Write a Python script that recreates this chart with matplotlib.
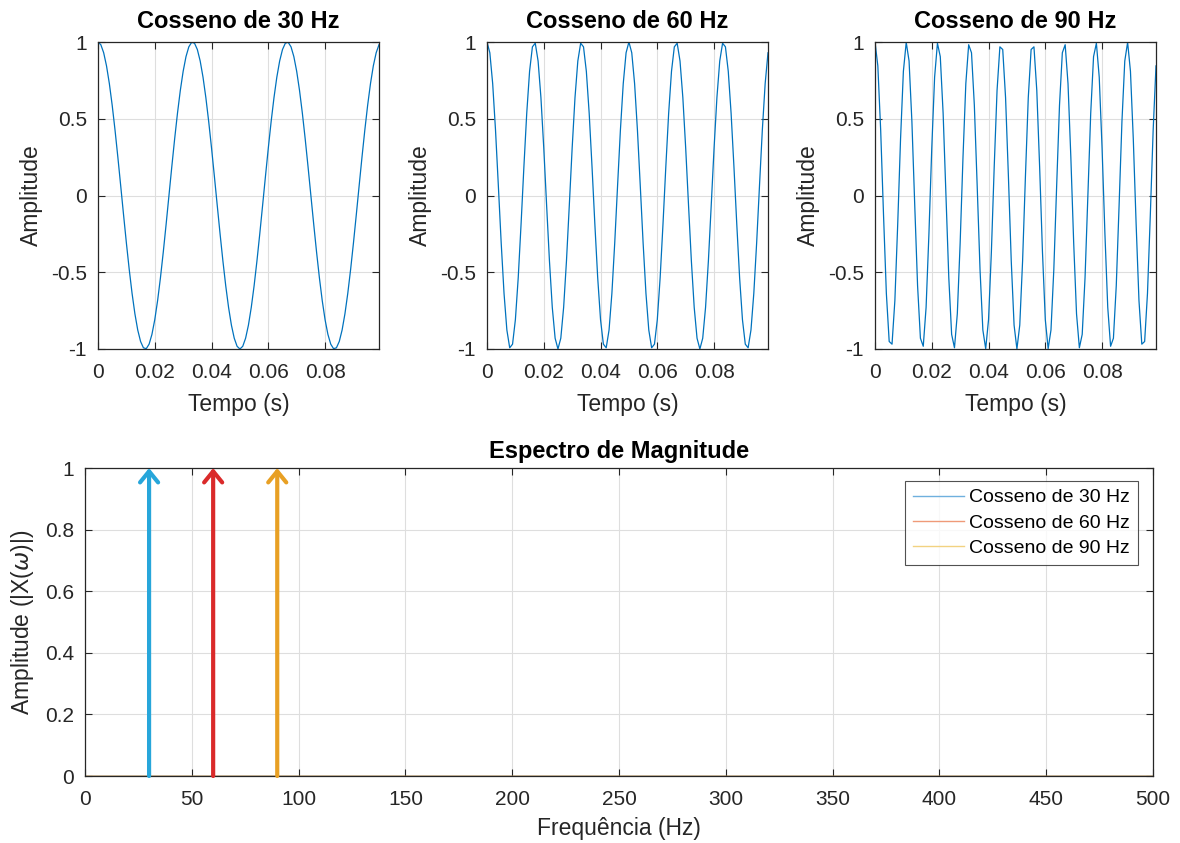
import numpy as np
import matplotlib
matplotlib.use("Agg")
import matplotlib.pyplot as plt

plt.rcParams['font.family'] = ['Liberation Sans', 'DejaVu Sans']
plt.rcParams['mathtext.fontset'] = 'dejavusans'

# data
freqs = [30, 60, 90]                 # Hz
fs = 1000                            # sampling rate (Hz)
n_samples = 100
titles = ['Cosseno de 30 Hz', 'Cosseno de 60 Hz', 'Cosseno de 90 Hz']
spec_freqs = [30, 60, 90]
spec_amps = [1.0, 1.0, 1.0]
arrow_colors = ['#27a6da', '#da2a2a', '#e8a024']
line_colors = ['#0072BD', '#D95319', '#EDB120']
legend_colors = ['#6fb0de', '#ef9a78', '#f2d281']

t = np.arange(n_samples) / fs

fig = plt.figure(figsize=(11.8, 8.43), dpi=100)
W, H = 1180, 843
axc = '#262626'
TICK = 15
LAB = 16.5
TIT = 17

def style(ax):
    ax.tick_params(direction='in', length=5, width=0.8, colors=axc,
                   labelsize=TICK, top=True, right=True,
                   labelcolor='#262626')
    ax.tick_params(axis='x', pad=10)
    ax.tick_params(axis='y', pad=8)
    for s in ax.spines.values():
        s.set_color(axc)
        s.set_linewidth(0.9)
    ax.grid(True, color='#dedede', linewidth=0.8)
    ax.set_axisbelow(True)

lefts = [98, 487, 875]
for i, f in enumerate(freqs):
    x0 = lefts[i]
    ax = fig.add_axes([x0 / W, 1 - 349 / H, 281 / W, (349 - 42) / H])
    style(ax)
    ax.plot(t, np.cos(2 * np.pi * f * t), color=line_colors[0], linewidth=0.9)
    ax.set_xlim(0, t[-1])
    ax.set_ylim(-1, 1)
    ax.set_xticks([0, 0.02, 0.04, 0.06, 0.08])
    ax.set_xticklabels(['0', '0.02', '0.04', '0.06', '0.08'])
    ax.set_yticks([-1, -0.5, 0, 0.5, 1])
    ax.set_yticklabels(['-1', '-0.5', '0', '0.5', '1'])
    ax.set_title(titles[i], fontsize=TIT, fontweight='bold', pad=10)
    ax.set_xlabel('Tempo (s)', fontsize=LAB, color='#262626', labelpad=8)
    ax.set_ylabel('Amplitude', fontsize=LAB, color='#262626', labelpad=6)

ax = fig.add_axes([85 / W, 1 - 776 / H, (1153 - 85) / W, (776 - 468) / H])
style(ax)
fgrid = np.arange(0, 501)
for i, f in enumerate(spec_freqs):
    ax.plot(fgrid, np.zeros_like(fgrid, dtype=float), color=line_colors[i],
            linewidth=1.0, label=titles[i])
for i, f in enumerate(spec_freqs):
    ax.annotate('', xy=(f, spec_amps[i]), xytext=(f, 0),
                arrowprops=dict(arrowstyle='->,head_length=0.8,head_width=0.65',
                                color=arrow_colors[i], lw=3,
                                shrinkA=0, shrinkB=0))
ax.set_xlim(0, 500)
ax.set_ylim(0, 1)
ax.set_xticks(np.arange(0, 501, 50))
ax.set_yticks([0, 0.2, 0.4, 0.6, 0.8, 1])
ax.set_yticklabels(['0', '0.2', '0.4', '0.6', '0.8', '1'])
ax.set_title('Espectro de Magnitude', fontsize=TIT, fontweight='bold', pad=7)
ax.set_xlabel('Frequência (Hz)', fontsize=LAB, color='#262626', labelpad=6)
ax.set_ylabel(r'Amplitude (|X($\omega$)|)', fontsize=LAB, color='#262626', labelpad=6)
leg = ax.legend(loc='upper right', fontsize=14, frameon=True, fancybox=False,
                edgecolor='#262626', borderpad=0.4, handlelength=2.6,
                handletextpad=0.3, labelspacing=0.4, borderaxespad=0,
                bbox_to_anchor=(0.986, 0.958))
leg.get_frame().set_linewidth(0.8)
for h, c in zip(leg.get_lines(), legend_colors):
    h.set_color(c)

fig.savefig('out.png', dpi=100)
